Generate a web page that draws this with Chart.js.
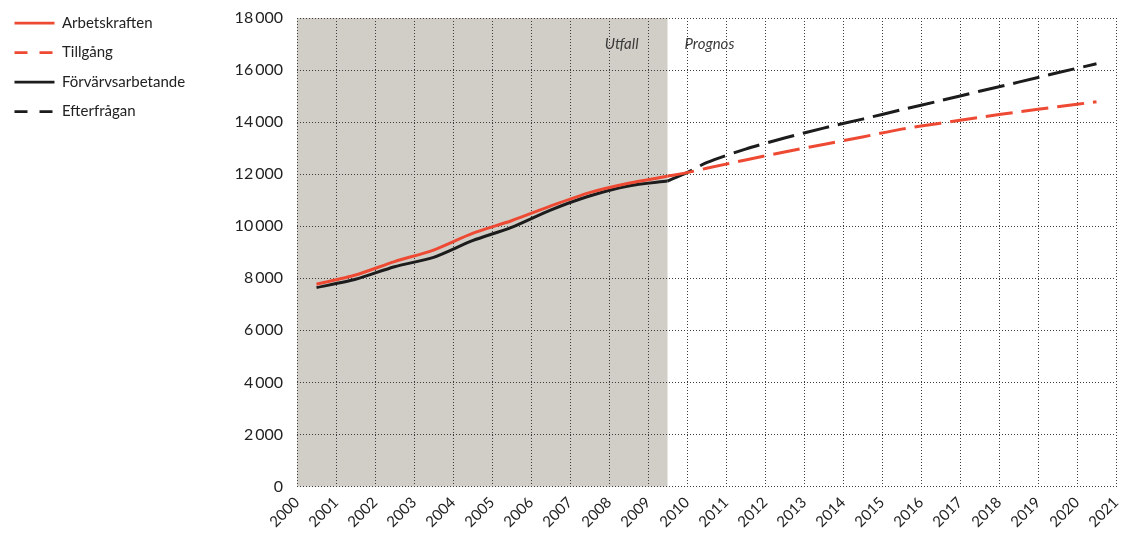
<!DOCTYPE html>
<html lang="sv">
<head>
<meta charset="utf-8">
<script src="https://cdn.jsdelivr.net/npm/chart.js@4/dist/chart.umd.min.js"></script>
<style>
  html, body { margin: 0; padding: 0; background: #fff; }
  #wrap { width: 1122px; height: 533px; }
</style>
</head>
<body>
<div id="wrap"><canvas id="graf" width="1122" height="533"></canvas></div>
<script>
// Utfall (mitt på året)
const utfallAr = [2000.5, 2001.5, 2002.5, 2003.5, 2004.5, 2005.5, 2006.5, 2007.5, 2008.5, 2009.5];
const arbetskraften = [7770, 8125, 8640, 9085, 9725, 10210, 10775, 11290, 11650, 11920];
const forvarvsarbetande = [7640, 7960, 8445, 8805, 9445, 9955, 10620, 11160, 11545, 11735];

// Prognos
const prognosAr = [2009.5, 2010, 2010.5, 2011.5, 2012.5, 2013.5, 2014.5, 2015.5, 2016.5, 2017.5, 2018.5, 2019.5, 2020.5];
const tillgang = [11920, 12060, 12225, 12545, 12855, 13140, 13430, 13730, 13960, 14180, 14395, 14590, 14780];
const efterfragan = [11735, 12060, 12440, 12965, 13390, 13770, 14115, 14475, 14825, 15185, 15535, 15895, 16240];

const xMin = 2000, xMax = 2021, utfallSlut = 2009.5;
const yMax = 18000, yStep = 2000;

const rod = "#ee4a33";
const svart = "#1c1c1c";
const font = "Lato, 'Open Sans', sans-serif";

function punkter(xs, ys) {
  return xs.map((x, i) => ({ x: x, y: ys[i] }));
}

// skuggat område för utfall + texter
const bakgrund = {
  id: "bakgrund",
  beforeDraw(chart) {
    const { ctx, chartArea, scales } = chart;
    const x0 = scales.x.getPixelForValue(xMin);
    const x1 = scales.x.getPixelForValue(utfallSlut);
    ctx.save();
    ctx.fillStyle = "#d1cec8";
    ctx.fillRect(x0, chartArea.top, x1 - x0, chartArea.bottom - chartArea.top);
    ctx.restore();
  },
  afterDraw(chart) {
    const { ctx, scales } = chart;
    const x1 = scales.x.getPixelForValue(utfallSlut);
    const y = scales.y.getPixelForValue(17000);
    ctx.save();
    ctx.font = "italic 15px " + font;
    ctx.fillStyle = "#3a3a3a";
    ctx.textBaseline = "middle";
    ctx.textAlign = "right";
    ctx.fillText("Utfall", x1 - 29, y);
    ctx.textAlign = "left";
    ctx.fillText("Prognos", x1 + 17, y);
    ctx.restore();
  }
};

const linje = (label, xs, ys, color, dash) => ({
  label: label,
  data: punkter(xs, ys),
  borderColor: color,
  backgroundColor: color,
  borderWidth: 3,
  borderDash: dash,
  pointRadius: 0,
  tension: 0.25,
  fill: false
});

new Chart(document.getElementById("graf"), {
  type: "line",
  data: {
    datasets: [
      linje("Arbetskraften", utfallAr, arbetskraften, rod, []),
      linje("Tillgång", prognosAr, tillgang, rod, [27, 9]),
      linje("Förvärvsarbetande", utfallAr, forvarvsarbetande, svart, []),
      linje("Efterfrågan", prognosAr, efterfragan, svart, [27, 9])
    ]
  },
  options: {
    responsive: false,
    animation: false,
    layout: { padding: { top: 1, right: 0, left: 0, bottom: 0 } },
    plugins: {
      tooltip: { enabled: false },
      legend: {
        position: "left",
        align: "start",
        labels: {
          usePointStyle: true,
          pointStyle: "line",
          pointStyleWidth: 40,
          padding: 14.5,
          color: "#222",
          font: { family: font, size: 15 },
          generateLabels(chart) {
            const items = Chart.defaults.plugins.legend.labels.generateLabels(chart);
            items.forEach(it => {
              const ds = chart.data.datasets[it.datasetIndex];
              it.pointStyle = "line";
              it.lineDash = ds.borderDash.length ? [13, 12] : [];
              it.lineWidth = 2.75;
            });
            return items;
          }
        }
      }
    },
    scales: {
      x: {
        type: "linear",
        min: xMin,
        max: xMax,
        border: { display: false, dash: [1, 2] },
        grid: { color: "#3c3c3c", lineWidth: 1, drawTicks: false },
        afterFit(s) { s.height = 46.5; s.paddingRight = 6; },
        ticks: {
          stepSize: 1,
          autoSkip: false,
          minRotation: 45,
          maxRotation: 45,
          padding: 7,
          color: "#222",
          font: { family: font, size: 15 },
          callback: v => String(v)
        }
      },
      y: {
        min: 0,
        max: yMax,
        border: { display: false, dash: [1, 2] },
        grid: { color: "#3c3c3c", lineWidth: 1, drawTicks: false },
        afterFit(s) { s.width = 297 - s.chart.legend.width; s.paddingTop = 18; },
        ticks: {
          stepSize: yStep,
          padding: 14,
          color: "#222",
          font: { family: font, size: 16 },
          callback: v => v >= 1000 ? Math.floor(v / 1000) + "\u2009" + String(v % 1000).padStart(3, "0") : String(v)
        }
      }
    }
  },
  plugins: [bakgrund]
});
</script>
</body>
</html>
